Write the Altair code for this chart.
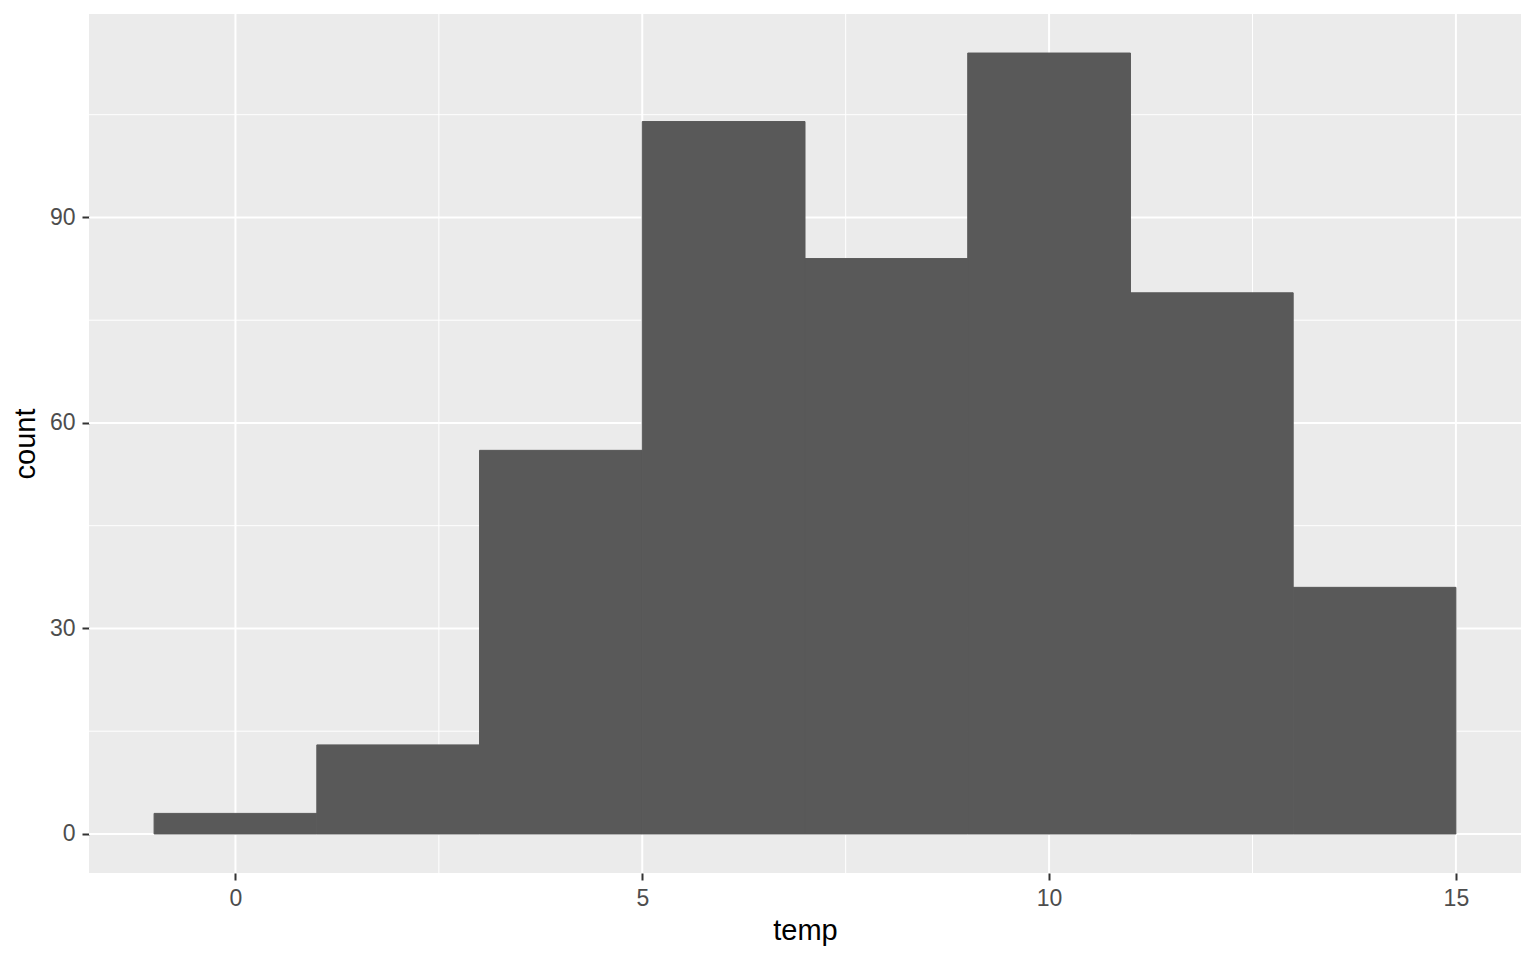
import pandas as pd
import altair as alt

# histogram of temp, binwidth 2
bin_start = [-1, 1, 3, 5, 7, 9, 11, 13]
bin_end = [1, 3, 5, 7, 9, 11, 13, 15]
counts = [3, 13, 56, 104, 84, 114, 79, 36]

x_major = [0, 5, 10, 15]
x_minor = [2.5, 7.5, 12.5]
y_major = [0, 30, 60, 90]
y_minor = [15, 45, 75, 105]

bars_df = pd.DataFrame({"start": bin_start, "end": bin_end, "count": counts})

x_scale = alt.Scale(domain=[-1.8, 15.8], nice=False, zero=False)
y_scale = alt.Scale(domain=[-5.7, 119.7], nice=False, zero=False)

axis_style = dict(
    grid=False, domain=False, tickColor="#333333", tickSize=7, tickWidth=2,
    labelColor="#4D4D4D", labelFontSize=23, labelFont="Liberation Sans",
    titleFont="Liberation Sans", titleFontSize=29, titleColor="#000000",
    titleFontWeight="normal", labelPadding=7,
)

x_axis = alt.Axis(values=x_major, title="temp", titlePadding=6, **axis_style)
y_axis = alt.Axis(values=y_major, title="count", titlePadding=9, **axis_style)

def vrules(vals, width):
    return alt.Chart(pd.DataFrame({"v": vals})).mark_rule(
        color="white", strokeWidth=width
    ).encode(x=alt.X("v:Q", scale=x_scale, axis=x_axis))

def hrules(vals, width):
    return alt.Chart(pd.DataFrame({"v": vals})).mark_rule(
        color="white", strokeWidth=width
    ).encode(y=alt.Y("v:Q", scale=y_scale, axis=y_axis))

grid = (hrules(y_minor, 1) + vrules(x_minor, 1)
        + hrules(y_major, 2) + vrules(x_major, 2))

bars = alt.Chart(bars_df).mark_rect(
    color="#595959", stroke="#595959", strokeWidth=1
).encode(
    x=alt.X("start:Q", scale=x_scale, axis=x_axis),
    x2="end:Q",
    y=alt.Y("count:Q", scale=y_scale, axis=y_axis),
    y2=alt.datum(0),
)

chart = alt.layer(grid, bars).properties(
    width=1432,
    height=859,
    autosize=alt.AutoSizeParams(type="none"),
    padding={"left": 81, "top": 6, "right": 7, "bottom": 80},
).configure_view(fill="#EBEBEB", stroke=None)

chart.save("out.html", embed_options={"renderer": "svg", "actions": False})
